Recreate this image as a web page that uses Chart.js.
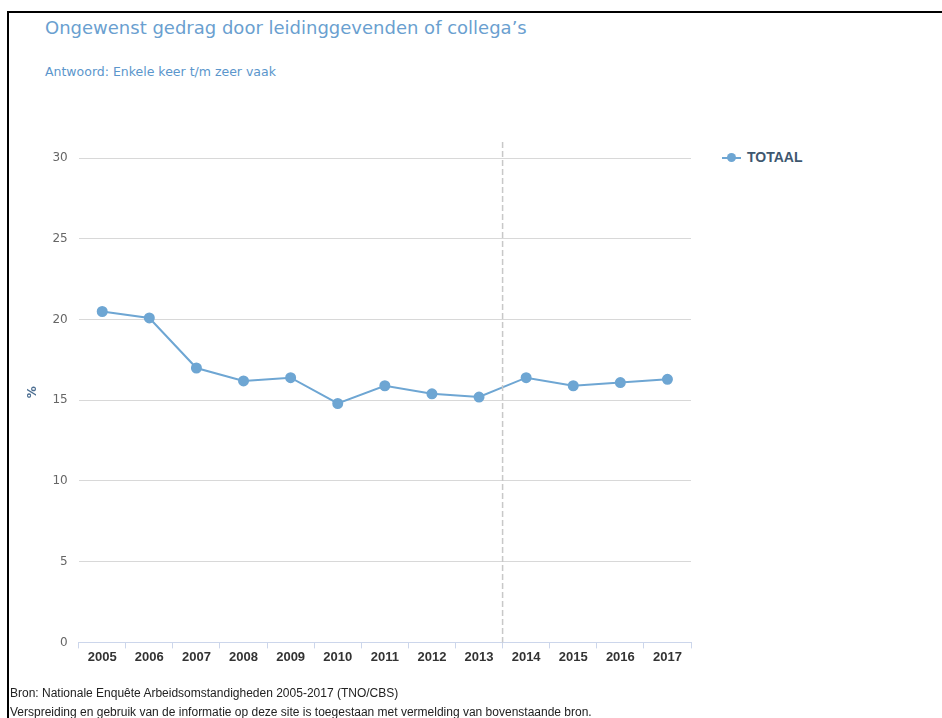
<!DOCTYPE html>
<html>
<head>
<meta charset="utf-8">
<script src="https://cdn.jsdelivr.net/npm/chart.js@4/dist/chart.umd.min.js"></script>
<style>
  body { margin: 0; background: #fff; }
  #frame { position: absolute; left: 7px; top: 11px; width: 935px; height: 707px;
           border-top: 2px solid #000; border-left: 2px solid #000; }
  #title { position: absolute; left: 45px; top: 17px; font: 18px "DejaVu Sans", sans-serif; color: #6a9fd0; }
  #subtitle { position: absolute; left: 45px; top: 64px; font: 12.5px "DejaVu Sans", sans-serif; color: #5b96cc; }
  #legend { position: absolute; left: 722px; top: 149px; font: bold 14px "Liberation Sans", sans-serif; color: #3e576f; }
  #legend .sym { display: inline-block; position: relative; width: 19px; height: 16px; vertical-align: middle; margin-right: 6px; }
  #legend .sym i { position: absolute; left: 0; top: 7px; width: 19px; height: 2px; background: #6ea6d3; }
  #legend .sym b { position: absolute; left: 5px; top: 3px; width: 9px; height: 9px; border-radius: 50%; background: #6ea6d3; }
  #footer { position: absolute; left: 10px; top: 684px; font: 12px "Liberation Sans", sans-serif; color: #222; line-height: 19px; }
  canvas { position: absolute; left: 0; top: 0; }
</style>
</head>
<body>
<div id="frame"></div>
<div id="title">Ongewenst gedrag door leidinggevenden of collega’s</div>
<div id="subtitle">Antwoord: Enkele keer t/m zeer vaak</div>
<div id="legend"></div>
<canvas id="chart" width="942" height="718"></canvas>
<div id="footer">Bron: Nationale Enquête Arbeidsomstandigheden 2005-2017 (TNO/CBS)<br>Verspreiding en gebruik van de informatie op deze site is toegestaan met vermelding van bovenstaande bron.</div>
<script>
const years = ["2005", "2006", "2007", "2008", "2009", "2010", "2011", "2012", "2013", "2014", "2015", "2016", "2017"];
const totaal = [20.5, 20.1, 17.0, 16.2, 16.4, 14.8, 15.9, 15.4, 15.2, 16.4, 15.9, 16.1, 16.3];
const seriesName = "TOTAAL";
const yTicks = [0, 5, 10, 15, 20, 25, 30];
const breakAfter = 8; // dashed line between 2013 and 2014

const lineColor = "#6ea6d3";

// html legend
document.getElementById("legend").innerHTML =
  '<span class="sym"><i></i><b></b></span>' + seriesName;

// dashed vertical separator
const breakLine = {
  id: "breakLine",
  afterDatasetsDraw(chart) {
    const x = chart.scales.x.getPixelForValue(breakAfter + 0.5);
    const a = chart.chartArea;
    const ctx = chart.ctx;
    ctx.save();
    ctx.strokeStyle = "#c8c8c8";
    ctx.lineWidth = 1.5;
    ctx.setLineDash([6, 3]);
    ctx.beginPath();
    ctx.moveTo(x, a.top);
    ctx.lineTo(x, a.bottom);
    ctx.stroke();
    ctx.restore();
  }
};

var ctx = document.getElementById("chart").getContext("2d");
new Chart(ctx, {
  type: "line",
  data: {
    labels: years,
    datasets: [{
      label: seriesName,
      data: totaal,
      borderColor: lineColor,
      backgroundColor: lineColor,
      borderWidth: 2,
      pointRadius: 4.5,
      pointHoverRadius: 5,
      tension: 0
    }]
  },
  options: {
    responsive: false,
    animation: false,
    layout: { padding: { left: 26, top: 142, right: 251, bottom: 52 } },
    plugins: { legend: { display: false }, tooltip: { enabled: false } },
    scales: {
      x: {
        offset: true,
        grid: { offset: true, drawOnChartArea: false, drawTicks: true, tickLength: 6, color: "#ccd6eb" },
        border: { color: "#ccd6eb" },
        ticks: { color: "#333", font: { family: "Liberation Sans Narrow, Liberation Sans", size: 13, weight: "bold" }, padding: 1, maxRotation: 0, autoSkip: false }
      },
      y: {
        min: 0,
        max: 31,
        afterBuildTicks: s => { s.ticks = yTicks.map(v => ({ value: v })); },
        grid: { color: "#d8d8d8", drawTicks: false },
        border: { display: false },
        ticks: { color: "#666", font: { family: "DejaVu Sans", size: 12 }, padding: 11 },
        title: { display: true, text: "%", color: "#4d6f92", font: { family: "DejaVu Sans", size: 12, weight: "bold" }, padding: { top: 0, bottom: 1 } }
      }
    }
  },
  plugins: [breakLine]
});
</script>
</body>
</html>
